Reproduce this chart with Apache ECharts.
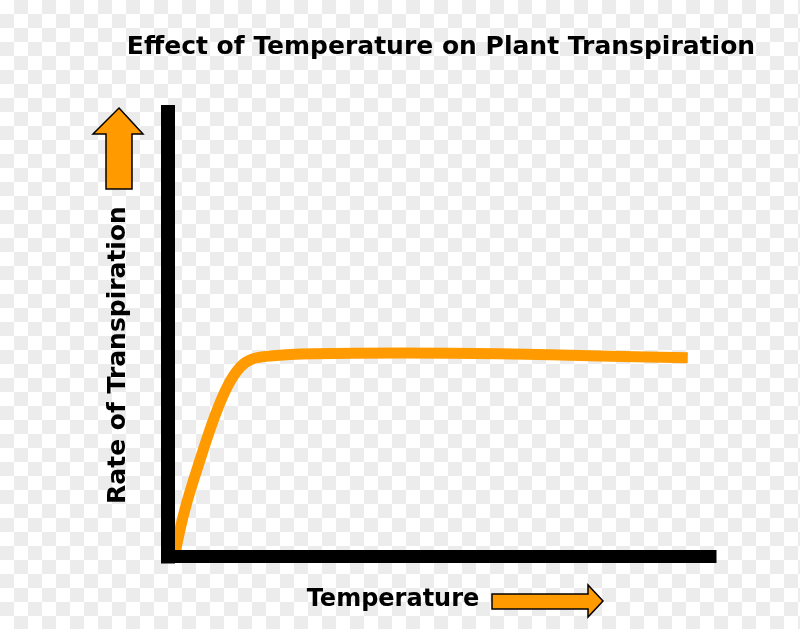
<!DOCTYPE html>
<html>
<head>
<meta charset="utf-8">
<script src="https://cdn.jsdelivr.net/npm/echarts@6/dist/echarts.min.js"></script>
<style>
  html, body { margin: 0; padding: 0; }
  #chart {
    width: 800px; height: 629px;
    background-color: #ffffff;
    background-image:
      linear-gradient(45deg, #ececec 25%, transparent 25%, transparent 75%, #ececec 75%),
      linear-gradient(45deg, #ececec 25%, transparent 25%, transparent 75%, #ececec 75%);
    background-size: 28px 28px;
    background-position: 0 0, 14px 14px;
  }
</style>
</head>
<body>
<div id="chart"></div>
<script>
// Data (relative units)
const titleText = 'Effect of Temperature on Plant Transpiration';
const xLabel = 'Temperature';
const yLabel = 'Rate of Transpiration';
const temperature = [1.3, 3.1, 5.9, 8.7, 11.1, 13.3, 15.5, 18.8, 26.8, 42.8, 61.3, 79.7, 95.9];
const transpirationRate = [0.8, 10.5, 21.7, 31.8, 38.6, 42.6, 44.4, 45.1, 45.6, 45.8, 45.6, 45.1, 44.7];

const points = temperature.map((t, i) => [t, transpirationRate[i]]);
const orange = '#FF9A00';
const font = 'DejaVu Sans';

const chart = echarts.init(document.getElementById('chart'), null, { renderer: 'canvas' });
chart.setOption({
  backgroundColor: 'transparent',
  animation: false,
  graphic: [
    { type: 'text', z: 10, x: 441, y: 47,
      style: { text: titleText, fontFamily: font, fontSize: 25, fontWeight: 'bold', fill: '#000',
               align: 'center', verticalAlign: 'middle' } },
    { type: 'polygon', z: 10,
      shape: { points: [[119,108],[143,134],[132,134],[132,189],[106,189],[106,134],[93,134]] },
      style: { fill: orange, stroke: '#000', lineWidth: 1.5 } },
    { type: 'polygon', z: 10,
      shape: { points: [[492,594],[588,594],[588,585],[603,601],[588,617],[588,609],[492,609]] },
      style: { fill: orange, stroke: '#000', lineWidth: 1.5 } },
    { type: 'text', z: 10, x: 393, y: 600,
      style: { text: xLabel, fontFamily: font, fontSize: 24, fontWeight: 'bold', fill: '#000',
               align: 'center', verticalAlign: 'middle' } },
    { type: 'text', z: 10, x: 118, y: 355, rotation: Math.PI / 2,
      style: { text: yLabel, fontFamily: font, fontSize: 25, fontWeight: 'bold', fill: '#000',
               align: 'center', verticalAlign: 'middle' } }
  ],
  grid: { left: 168, right: 90, top: 112, bottom: 72.5 },
  xAxis: {
    type: 'value', min: 0, max: 100, z: 5,
    axisLine: { show: true, lineStyle: { color: '#000', width: 13, cap: 'square' } },
    axisTick: { show: false }, axisLabel: { show: false }, splitLine: { show: false }
  },
  yAxis: {
    type: 'value', min: 0, max: 100, z: 5,
    axisLine: { show: true, lineStyle: { color: '#000', width: 14, cap: 'square' } },
    axisTick: { show: false }, axisLabel: { show: false }, splitLine: { show: false }
  },
  series: [{
    type: 'line', data: points, smooth: 0.35, symbol: 'none', z: 2,
    lineStyle: { color: orange, width: 11, cap: 'butt', join: 'round' }
  }]
});
</script>
</body>
</html>
